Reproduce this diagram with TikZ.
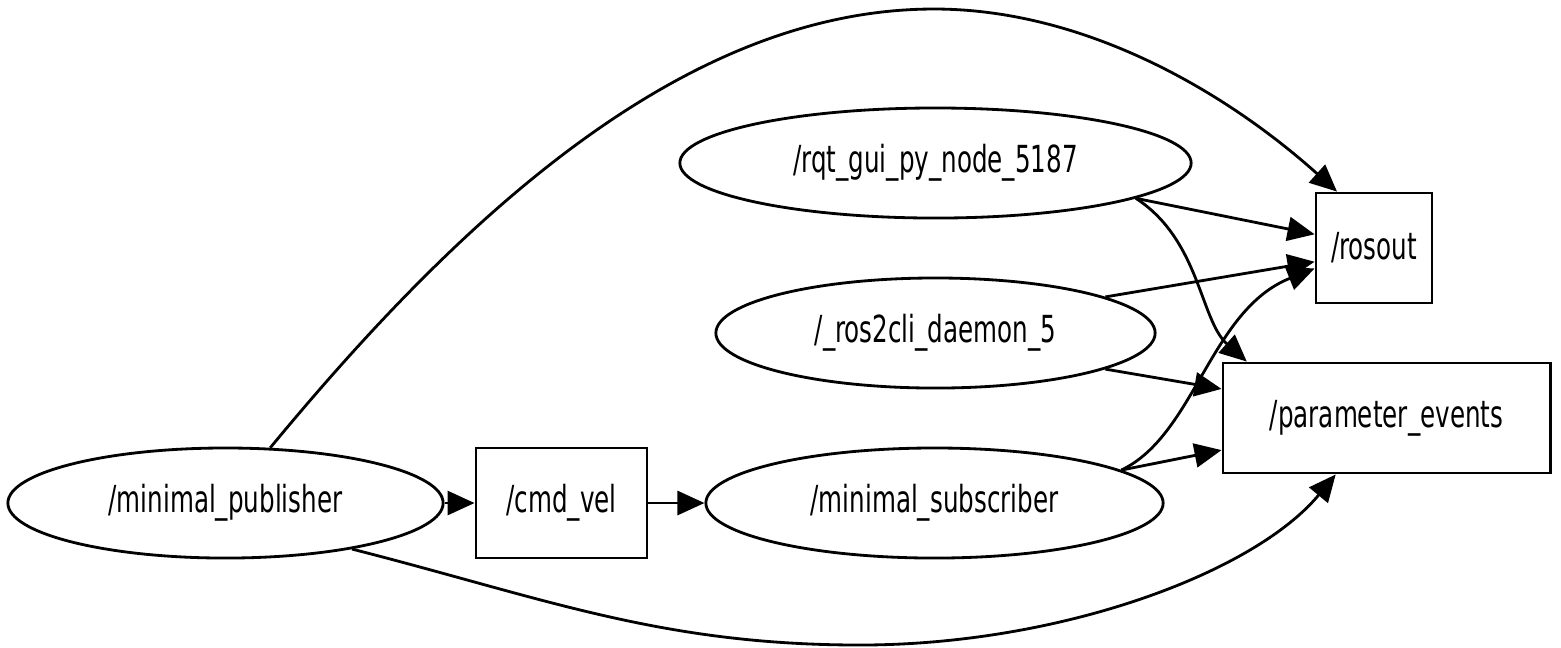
\documentclass[tikz,border=0pt]{standalone}
\usepackage{fontspec}
\newfontfamily\gvfont{DejaVu Sans}[FakeStretch=0.66]
\usepackage{tikz}
\usetikzlibrary{arrows.meta,shapes.geometric}

\begin{document}
\begin{tikzpicture}[
  x = 0.01cm, y = -0.01cm, font = \gvfont\fontsize{10.6}{12}\selectfont,
  rnode/.style = {ellipse, draw, line width=0.8pt, inner sep=0pt, minimum height=1.1cm},
  topic/.style = {rectangle, draw, line width=0.8pt, inner sep=0pt, minimum height=1.1cm},
  arr/.style   = {-{Triangle[length=2.7mm,width=2.4mm]}, line width=0.8pt}
]
\useasboundingbox (0,0) rectangle (1561,647);
\node[rnode, minimum width=4.35cm] (pub)    at (225.5,503) {/minimal\_publisher};
\node[topic, minimum width=1.71cm] (cmd)    at (561.5,503) {/cmd\_vel};
\node[rnode, minimum width=4.57cm] (sub)    at (934.5,503) {/minimal\_subscriber};
\node[rnode, minimum width=5.11cm] (rqt)    at (935.5,163) {/rqt\_gui\_py\_node\_5187};
\node[rnode, minimum width=4.39cm] (cli)    at (935.5,333) {/\_ros2cli\_daemon\_5};
\node[topic, minimum width=1.16cm] (rosout) at (1374,248)  {/rosout};
\node[topic, minimum width=3.27cm] (params) at (1386.5,418) {/parameter\_events};
% publisher chain
\draw[arr] (pub.east) -- (cmd.west);
\draw[arr] (cmd.east) -- (sub.west);
% long arcs
\draw[arr] (pub.51) .. controls (460,218) and (684,9) .. (934,9)
                    .. controls (1084,9) and (1225,91) .. (rosout.north west -| 1337,0);
\draw[arr] (pub.-20) .. controls (544,598) and (660,645) .. (860,645)
                     .. controls (1060,645) and (1254,573) .. (params.228);
% to /rosout and /parameter_events
\draw[arr] (rqt.-10) -- (rosout.167);
\draw[arr] (rqt.-10) .. controls (1200,240) and (1200,320) .. (params.158);
\draw[arr] (cli.12)  -- (rosout.193);
\draw[arr] (cli.-12) -- (params.170);
\draw[arr] (sub.10)  .. controls (1195,435) and (1210,310) .. (rosout.199);
\draw[arr] (sub.10)  -- (params.191);
\end{tikzpicture}
\end{document}
